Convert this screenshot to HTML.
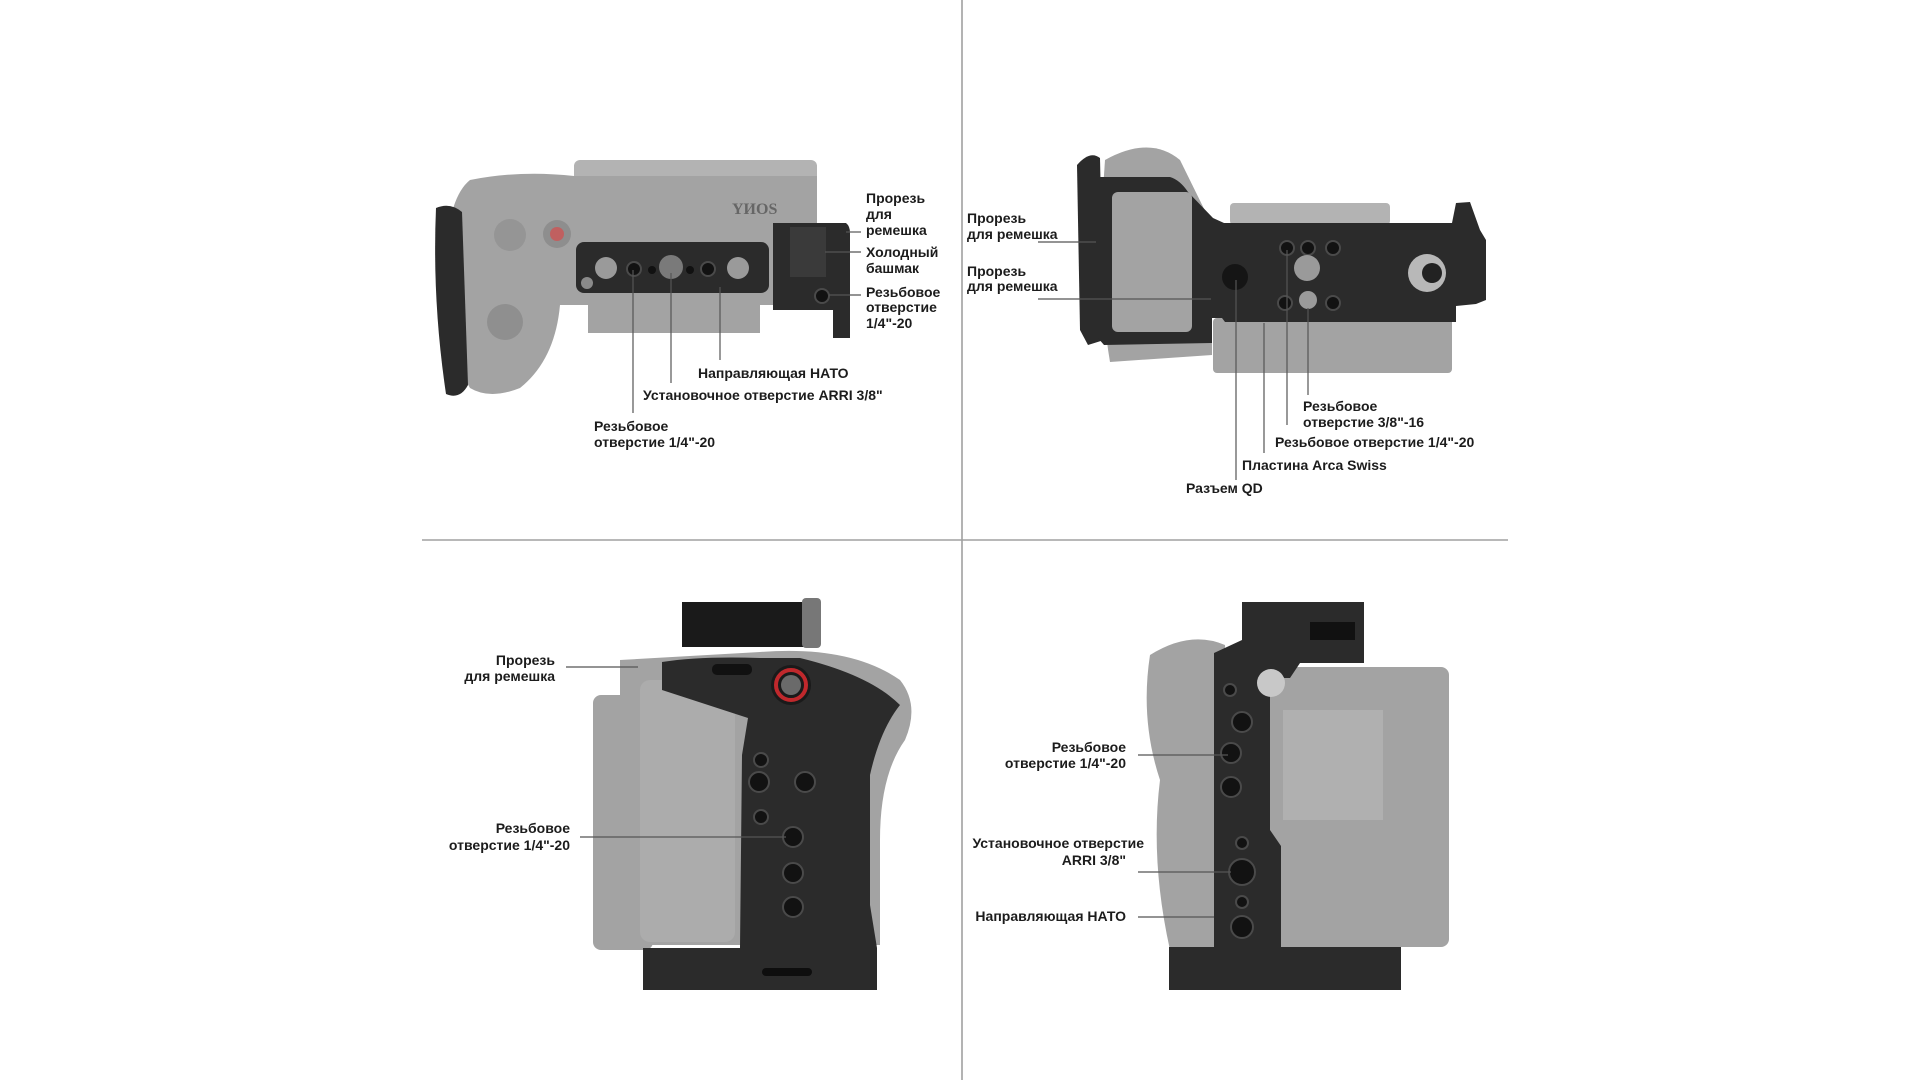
<!DOCTYPE html>
<html><head><meta charset="utf-8"><style>
html,body{margin:0;padding:0;background:#fff;width:1920px;height:1080px;overflow:hidden}
svg{display:block}
text{font-family:"Liberation Sans",sans-serif;font-size:14px;font-weight:bold;fill:#1c1c1c}
.l{stroke:#555;stroke-width:1.2;fill:none}
.g{fill:#a3a3a3}.g2{fill:#b3b3b3}.d{fill:#2b2b2b}.d2{fill:#1a1a1a}.h{fill:#121212;stroke:#4a4a4a;stroke-width:2}
</style></head><body>
<svg width="1920" height="1080" viewBox="0 0 1920 1080" xmlns="http://www.w3.org/2000/svg">
<line x1="962" y1="0" x2="962" y2="1080" stroke="#9a9a9a" stroke-width="1.5"/>
<line x1="422" y1="540" x2="1508" y2="540" stroke="#a0a0a0" stroke-width="1.5"/>

<!-- ===== TOP LEFT camera ===== -->
<rect class="g2" x="574" y="160" width="243" height="60" rx="6"/>
<path class="g" d="M470 180 Q520 170 574 176 L817 176 L817 305 L760 305 L760 333 L588 333 L588 305 L560 305 Q555 360 520 388 Q490 400 470 388 Q445 345 445 280 Q445 200 470 180Z"/>
<rect class="g" x="588" y="293" width="172" height="40" rx="4"/>
<path class="d" d="M436 208 Q450 202 462 212 L468 385 Q460 400 446 394 Q432 300 436 208Z"/>
<circle cx="510" cy="235" r="16" fill="#959595"/>
<circle cx="557" cy="234" r="14" fill="#8e8e8e"/><circle cx="557" cy="234" r="7" fill="#c06060"/>
<circle cx="505" cy="322" r="18" fill="#8f8f8f"/>
<text x="732" y="214" style="font-family:'Liberation Serif',serif;font-size:16px;fill:#666">ΥИOS</text>
<rect class="d" x="576" y="242" width="193" height="51" rx="8"/>
<circle cx="606" cy="268" r="11" fill="#9a9a9a"/><circle cx="738" cy="268" r="11" fill="#9a9a9a"/>
<circle cx="671" cy="267" r="12" fill="#7a7a7a"/>
<circle cx="634" cy="269" r="7" class="h"/><circle cx="708" cy="269" r="7" class="h"/>
<circle cx="652" cy="270" r="4" fill="#111"/><circle cx="690" cy="270" r="4" fill="#111"/>
<circle cx="587" cy="283" r="6" fill="#8a8a8a"/>
<path class="d" d="M773 223 L846 223 Q850 226 850 233 L850 338 L833 338 L833 310 L773 310Z"/>
<rect x="790" y="227" width="36" height="50" fill="#3a3a3a"/>
<circle cx="822" cy="296" r="7" class="h"/>
<line class="l" x1="846" y1="232" x2="861" y2="232"/>
<line class="l" x1="825" y1="252" x2="861" y2="252"/>
<line class="l" x1="829" y1="295" x2="861" y2="295"/>
<text x="866" y="203">Прорезь</text>
<text x="866" y="219">для</text>
<text x="866" y="235">ремешка</text>
<text x="866" y="257">Холодный</text>
<text x="866" y="273">башмак</text>
<text x="866" y="297">Резьбовое</text>
<text x="866" y="312">отверстие</text>
<text x="866" y="328">1/4"-20</text>
<line class="l" x1="633" y1="270" x2="633" y2="413"/>
<line class="l" x1="671" y1="273" x2="671" y2="383"/>
<line class="l" x1="720" y1="287" x2="720" y2="360"/>
<text x="698" y="378">Направляющая НАТО</text>
<text x="643" y="400">Установочное отверстие ARRI 3/8"</text>
<text x="594" y="431">Резьбовое</text>
<text x="594" y="447">отверстие  1/4"-20</text>

<!-- ===== TOP RIGHT camera ===== -->
<rect class="g2" x="1230" y="203" width="160" height="22" rx="4"/>
<rect class="g" x="1213" y="318" width="239" height="55" rx="4"/>
<path class="g" d="M1105 160 Q1150 135 1180 160 L1212 225 L1212 355 L1110 362 Q1096 280 1105 160Z"/>
<path class="d" d="M1077 165 Q1090 150 1100 158 L1104 340 L1088 345 L1080 330Z"/>
<path class="d" d="M1098 177 L1170 177 Q1180 180 1188 192 L1213 218 L1224 223 L1410 223 L1452 223 L1456 203 L1470 202 L1480 230 L1486 240 L1486 300 L1476 304 L1456 306 L1456 322 L1225 322 L1222 318 L1212 318 L1212 343 L1104 345 L1098 338Z"/>
<rect class="g" x="1112" y="192" width="80" height="140" rx="6"/>
<circle cx="1235" cy="277" r="13" fill="#151515"/>
<circle cx="1287" cy="248" r="7" class="h"/><circle cx="1308" cy="248" r="7" class="h"/><circle cx="1333" cy="248" r="7" class="h"/>
<circle cx="1307" cy="268" r="13" fill="#9a9a9a"/>
<circle cx="1308" cy="300" r="9" fill="#9a9a9a"/>
<circle cx="1285" cy="303" r="7" class="h"/><circle cx="1333" cy="303" r="7" class="h"/>
<circle cx="1427" cy="273" r="19" fill="#b8b8b8"/><circle cx="1432" cy="273" r="10" fill="#222"/>
<line class="l" x1="1038" y1="242" x2="1096" y2="242"/>
<line class="l" x1="1038" y1="299" x2="1211" y2="299"/>
<text x="967" y="223">Прорезь</text>
<text x="967" y="239">для ремешка</text>
<text x="967" y="276">Прорезь</text>
<text x="967" y="291">для ремешка</text>
<line class="l" x1="1236" y1="280" x2="1236" y2="480"/>
<line class="l" x1="1264" y1="323" x2="1264" y2="453"/>
<line class="l" x1="1287" y1="250" x2="1287" y2="425"/>
<line class="l" x1="1308" y1="308" x2="1308" y2="395"/>
<text x="1303" y="411">Резьбовое</text>
<text x="1303" y="427">отверстие  3/8"-16</text>
<text x="1275" y="447">Резьбовое отверстие  1/4"-20</text>
<text x="1242" y="470">Пластина Arca Swiss</text>
<text x="1186" y="493">Разъем QD</text>

<!-- ===== BOTTOM LEFT camera ===== -->
<rect class="g" x="593" y="695" width="60" height="255" rx="8"/>
<path class="g" d="M620 660 L760 652 Q850 645 900 680 Q920 705 905 740 Q880 775 880 840 L880 945 L620 945Z"/>
<rect x="640" y="680" width="95" height="262" rx="10" fill="#acacac"/>
<rect class="d2" x="682" y="602" width="122" height="45"/>
<rect x="802" y="598" width="19" height="50" rx="4" fill="#777"/>
<path class="d" d="M662 662 Q700 656 760 658 L800 658 Q870 675 900 705 Q880 730 870 775 L870 905 L877 948 L877 990 L643 990 L643 948 L740 948 L742 755 L748 718 L662 690Z"/>
<rect x="712" y="664" width="40" height="11" rx="5" fill="#111"/>
<circle cx="791" cy="685" r="20" fill="#1a1a1a"/><circle cx="791" cy="685" r="15" fill="none" stroke="#c0282c" stroke-width="4"/><circle cx="791" cy="685" r="10" fill="#6a6a6a"/>
<circle cx="761" cy="760" r="7" class="h"/><circle cx="761" cy="817" r="7" class="h"/>
<circle cx="759" cy="782" r="10" class="h"/><circle cx="805" cy="782" r="10" class="h"/>
<circle cx="793" cy="837" r="10" class="h"/><circle cx="793" cy="873" r="10" class="h"/><circle cx="793" cy="907" r="10" class="h"/>
<rect x="762" y="968" width="50" height="8" rx="4" fill="#0e0e0e"/>
<line class="l" x1="566" y1="667" x2="638" y2="667"/>
<line class="l" x1="580" y1="837" x2="786" y2="837"/>
<text x="555" y="665" text-anchor="end">Прорезь</text>
<text x="555" y="681" text-anchor="end">для ремешка</text>
<text x="570" y="833" text-anchor="end">Резьбовое</text>
<text x="570" y="850" text-anchor="end">отверстие  1/4"-20</text>

<!-- ===== BOTTOM RIGHT camera ===== -->
<path class="g" d="M1150 655 Q1190 630 1225 645 L1230 950 L1170 950 Q1150 860 1160 780 Q1140 720 1150 655Z"/>
<rect class="g" x="1253" y="667" width="196" height="280" rx="8"/>
<rect x="1283" y="710" width="100" height="110" fill="#b0b0b0"/>
<path class="d" d="M1242 602 L1364 602 L1364 663 L1300 663 L1290 678 L1270 678 L1270 830 L1281 846 L1281 947 L1401 947 L1401 990 L1169 990 L1169 947 L1214 947 L1214 653 L1242 640Z"/>
<rect x="1310" y="622" width="45" height="18" fill="#111"/>
<circle cx="1271" cy="683" r="14" fill="#c8c8c8"/>
<circle cx="1230" cy="690" r="6" class="h"/>
<circle cx="1242" cy="722" r="10" class="h"/><circle cx="1231" cy="753" r="10" class="h"/><circle cx="1231" cy="787" r="10" class="h"/>
<circle cx="1242" cy="843" r="6" class="h"/><circle cx="1242" cy="872" r="13" class="h"/>
<circle cx="1242" cy="902" r="6" class="h"/><circle cx="1242" cy="927" r="11" class="h"/>
<line class="l" x1="1138" y1="755" x2="1228" y2="755"/>
<line class="l" x1="1138" y1="872" x2="1231" y2="872"/>
<line class="l" x1="1138" y1="917" x2="1214" y2="917"/>
<text x="1126" y="752" text-anchor="end">Резьбовое</text>
<text x="1126" y="768" text-anchor="end">отверстие  1/4"-20</text>
<text x="1144" y="848" text-anchor="end">Установочное отверстие</text>
<text x="1126" y="865" text-anchor="end">ARRI 3/8"</text>
<text x="1126" y="921" text-anchor="end">Направляющая НАТО</text>
</svg>
</body></html>
